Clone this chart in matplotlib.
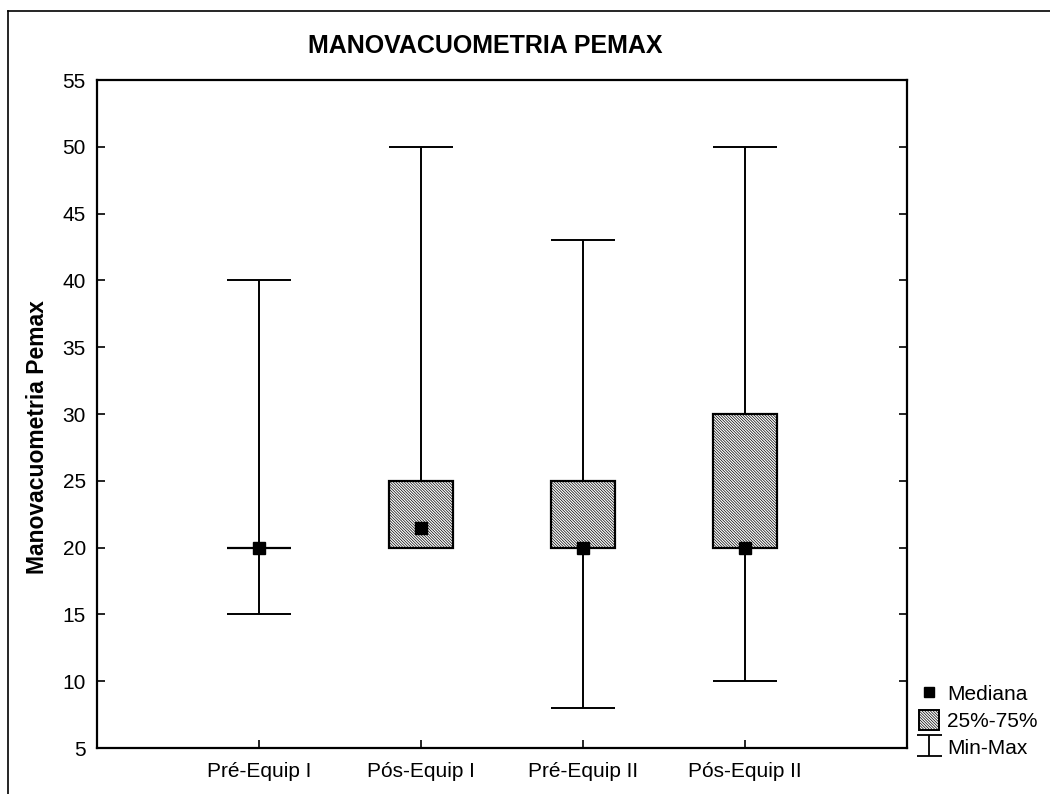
import numpy as np
import matplotlib
matplotlib.use("Agg")
import matplotlib.pyplot as plt
from matplotlib.lines import Line2D
from matplotlib.patches import Patch

plt.rcParams['font.family'] = ['Liberation Sans', 'DejaVu Sans']
plt.rcParams['hatch.color'] = '#4a4a4a'
plt.rcParams['hatch.linewidth'] = 0.5

categories = ['Pré-Equip I', 'Pós-Equip I', 'Pré-Equip II', 'Pós-Equip II']
mins = [15, 20, 8, 10]
maxs = [40, 50, 43, 50]
q1 = [20, 20, 20, 20]
q3 = [20, 25, 25, 30]
medians = [20, 21.5, 20, 20]
yticks = list(range(5, 60, 5))

HATCH = '\\' * 12

fig = plt.figure(figsize=(10.5, 7.94), dpi=100)
ax = fig.add_axes([97 / 1050, 1 - 748 / 794, (907 - 97) / 1050, (748 - 80) / 794])

x = np.arange(len(categories))
w = 0.4

# whiskers + caps
ax.vlines(x, mins, maxs, color='black', linewidth=1.4, zorder=1)
ax.hlines(mins, x - w / 2, x + w / 2, color='black', linewidth=1.4, zorder=1)
ax.hlines(maxs, x - w / 2, x + w / 2, color='black', linewidth=1.4, zorder=1)

# boxes
heights = np.array(q3) - np.array(q1)
ax.bar(x, heights, bottom=q1, width=w, facecolor='white', edgecolor='black',
       hatch=HATCH, linewidth=1.6, zorder=2)

# medians
ax.plot(x, medians, linestyle='none', marker='s', markersize=8,
        color='black', zorder=3)

ax.set_xlim(-1, 4)
ax.set_ylim(5, 55)
ax.set_xticks(x)
ax.set_xticklabels(categories, fontsize=15)
ax.set_yticks(yticks)
ax.tick_params(axis='y', labelsize=15, direction='in', right=True, length=6, width=1.2, pad=8)
ax.tick_params(axis='x', direction='in', length=6, width=1.2, pad=10)
for s in ax.spines.values():
    s.set_linewidth(1.6)

ax.set_ylabel('Manovacuometria Pemax', fontsize=16.5, fontweight='bold')
ax.yaxis.set_label_coords(-0.059, 0.466)
fig.text(485 / 1050, 1 - 46 / 794, 'MANOVACUOMETRIA PEMAX', fontsize=18,
         fontweight='bold', ha='center', va='center')

# legend
eb = ax.errorbar([np.nan], [np.nan], yerr=[1], fmt='none', ecolor='black',
                 capsize=9, elinewidth=1.3, capthick=1.3)
handles = [
    Line2D([], [], linestyle='none', marker='s', markersize=7, color='black'),
    Patch(facecolor='white', edgecolor='black', hatch=HATCH, linewidth=1.4),
    eb,
]
fig.legend(handles, ['Mediana', '25%-75%', 'Min-Max'], loc='lower left',
           bbox_to_anchor=(919 / 1050, 0.045), frameon=False, fontsize=15,
           handlelength=0.95, handleheight=1.05, handletextpad=0.4,
           labelspacing=0.3, borderpad=0, borderaxespad=0)

# outer frame (left and top only)
fig.add_artist(Line2D([8 / 1050, 8 / 1050], [0, 1 - 11 / 794], color='black',
                      linewidth=1.2, transform=fig.transFigure))
fig.add_artist(Line2D([8 / 1050, 1], [1 - 11 / 794, 1 - 11 / 794], color='black',
                      linewidth=1.2, transform=fig.transFigure))

fig.savefig('out.png', dpi=100)
